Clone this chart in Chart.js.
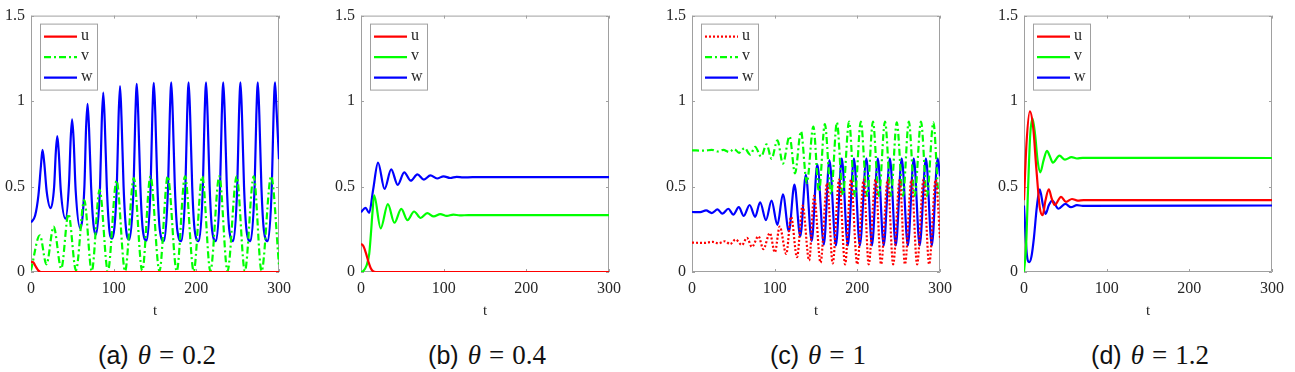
<!DOCTYPE html>
<html>
<head>
<meta charset="utf-8">
<script src="https://cdn.jsdelivr.net/npm/chart.js@4.4.1/dist/chart.umd.min.js"></script>
<style>
  html, body { margin: 0; padding: 0; background: #fff; }
  body { width: 1295px; height: 372px; position: relative; overflow: hidden; }
  canvas { position: absolute; top: 0; }
  .cap { position: absolute; top: 342px; width: 252px; text-align: center; color: #111; white-space: nowrap; line-height: 1; }
  .cap .lab { font-family: "Liberation Sans", Arial, sans-serif; font-size: 25px; }
  .cap .math { font-family: "Liberation Serif", "Times New Roman", serif; font-size: 27px; margin-left: 5px; }
  .cap .eq { margin: 0 8px; }
</style>
</head>
<body>
<canvas id="ca" width="298" height="320" style="left:0px"></canvas>
<canvas id="cb" width="298" height="320" style="left:330px"></canvas>
<canvas id="cc" width="298" height="320" style="left:661px"></canvas>
<canvas id="cd" width="298" height="320" style="left:993px"></canvas>
<div class="cap" style="left:31px"><span class="lab">(a)</span> <span class="math"><i>θ</i><span class="eq">=</span>0.2</span></div>
<div class="cap" style="left:361px"><span class="lab">(b)</span> <span class="math"><i>θ</i><span class="eq">=</span>0.4</span></div>
<div class="cap" style="left:692px"><span class="lab">(c)</span> <span class="math"><i>θ</i><span class="eq">=</span>1</span></div>
<div class="cap" style="left:1024px"><span class="lab">(d)</span> <span class="math"><i>θ</i><span class="eq">=</span>1.2</span></div>
<script>
// axis ticks
var xTicks = [0, 100, 200, 300];
var yTicks = [0, 0.5, 1, 1.5];
var seriesNames = ["u", "v", "w"];

// (a) theta = 0.2
var tA_u = [0, 3, 6, 9, 12, 300];
var uA   = [0.06, 0.055, 0.03, 0.008, 0, 0];
var tA_v = [0, 10.7, 18.7, 27.4, 36.6, 45.3, 54.4, 64.4, 73.5, 83, 93, 103.5, 113.8, 124.3, 134.6, 144.5, 155.4, 165.4, 176.3, 186.3, 196.8, 207.1, 217, 227.8, 237.7, 248.8, 258.7, 269.4, 278.9, 290.5, 300];
var vA   = [0.01, 0.215, 0.045, 0.265, 0.02, 0.34, 0.01, 0.42, 0.005, 0.48, 0.005, 0.535, 0.005, 0.55, 0.005, 0.56, 0.005, 0.56, 0.005, 0.56, 0.005, 0.56, 0.005, 0.56, 0.005, 0.56, 0.005, 0.56, 0.005, 0.56, 0.04];
var tA_w = [0, 5, 9, 12, 13.9, 16, 19, 23.8,
  28, 30, 31.8, 33.6, 36, 41.7,
  46, 48, 49.7, 51.5, 54, 59.6,
  64.6, 66.6, 68.4, 70.2, 72.7, 75.5, 78.5,
  83.5, 85.6, 87.4, 89.2, 91.7, 94.5, 98,
  103.8, 105.9, 107.7, 109.5, 112, 115, 119,
  124.1, 126.2, 128, 129.8, 132.3, 135.4, 139.9,
  144.7, 146.8, 148.6, 150.4, 152.9, 156, 160.9,
  165.8, 167.9, 169.7, 171.5, 174, 177.1, 182,
  186.8, 188.9, 190.7, 192.5, 195, 198.1, 203,
  207.9, 210, 211.8, 213.6, 216.1, 219.2, 223.8,
  228.7, 230.8, 232.6, 234.4, 236.9, 240, 244.6,
  249.5, 251.6, 253.4, 255.2, 257.7, 260.8, 265.5,
  270.5, 272.6, 274.4, 276.2, 278.7, 281.8, 286.5,
  291.3, 293.4, 295.2, 297, 300];
var wA = [0.29, 0.33, 0.45, 0.62, 0.715, 0.64, 0.47, 0.373,
  0.5, 0.7, 0.795, 0.7, 0.48, 0.312,
  0.52, 0.78, 0.893, 0.78, 0.48, 0.255,
  0.5, 0.84, 0.984, 0.84, 0.5, 0.28, 0.218,
  0.5, 0.88, 1.05, 0.88, 0.5, 0.26, 0.195,
  0.5, 0.9, 1.088, 0.9, 0.5, 0.25, 0.189,
  0.5, 0.91, 1.1, 0.91, 0.5, 0.24, 0.183,
  0.5, 0.92, 1.107, 0.92, 0.5, 0.24, 0.18,
  0.5, 0.92, 1.11, 0.92, 0.5, 0.24, 0.18,
  0.5, 0.92, 1.11, 0.92, 0.5, 0.24, 0.18,
  0.5, 0.92, 1.11, 0.92, 0.5, 0.24, 0.18,
  0.5, 0.92, 1.11, 0.92, 0.5, 0.24, 0.18,
  0.5, 0.92, 1.11, 0.92, 0.5, 0.24, 0.18,
  0.5, 0.92, 1.11, 0.92, 0.5, 0.24, 0.18,
  0.5, 0.92, 1.11, 0.95, 0.66];

// (b) theta = 0.4
var tB_u = [0, 3, 6, 9, 12, 15, 18, 300];
var uB   = [0.165, 0.15, 0.11, 0.06, 0.02, 0.003, 0, 0];
var tB_v = [0, 2.8, 6.7, 9.9, 11.9, 13.9, 15.9, 23.8, 32.5, 40.4, 48.7, 56.3, 64.2, 72.1, 80.1, 88, 95.9, 103.8, 111.7, 119.6, 130, 300];
var vB   = [0, 0.006, 0.038, 0.104, 0.217, 0.35, 0.448, 0.255, 0.397, 0.288, 0.369, 0.303, 0.354, 0.316, 0.344, 0.325, 0.339, 0.328, 0.336, 0.331, 0.333, 0.333];
var tB_w = [0, 5.5, 9.9, 14.7, 20.6, 28.5, 36.5, 44.4, 52.3, 60.2, 68.2, 76.1, 84, 92, 99.9, 107.8, 115.7, 123.6, 135, 300];
var wB   = [0.35, 0.375, 0.346, 0.482, 0.64, 0.486, 0.6, 0.51, 0.583, 0.534, 0.571, 0.54, 0.565, 0.547, 0.56, 0.55, 0.557, 0.553, 0.555, 0.555];

// (c) theta = 1
var tC_u = [0, 15, 25, 32, 40, 46, 52.7, 60.5, 66.5, 72.4, 80.4, 86.3, 94.2, 100.2, 106.1, 114, 119.9, 127, 133.8, 141.7, 147.7, 155.5, 163.4, 170.2, 178, 185.2, 192.3, 199.9, 207.7, 213.7, 222, 228.7, 236.7, 243.3, 251.3, 257.6, 265.5, 272.3, 280.1, 286.9, 294.8, 300];
var uC   = [0.172, 0.17, 0.176, 0.168, 0.18, 0.163, 0.19, 0.158, 0.2, 0.147, 0.209, 0.134, 0.228, 0.115, 0.266, 0.106, 0.323, 0.087, 0.389, 0.068, 0.445, 0.055, 0.52, 0.05, 0.54, 0.045, 0.54, 0.045, 0.54, 0.045, 0.54, 0.045, 0.54, 0.045, 0.54, 0.045, 0.54, 0.045, 0.54, 0.045, 0.54, 0.2];
var tC_v = [0, 15, 24, 31, 38, 45, 51, 57, 63.5, 70.5, 76.4, 83.6, 90.2, 96.2, 103.3, 110, 118, 124.6, 131.8, 138.9, 146.8, 153.6, 160.7, 168.2, 175.3, 182.4, 190, 197, 204.2, 211.8, 218.9, 226, 233.5, 240.6, 247.7, 255.2, 262.3, 269.4, 277, 284.2, 292, 298.8, 300];
var vC   = [0.712, 0.71, 0.715, 0.705, 0.714, 0.702, 0.72, 0.697, 0.725, 0.687, 0.732, 0.675, 0.747, 0.662, 0.77, 0.634, 0.794, 0.577, 0.823, 0.521, 0.851, 0.47, 0.865, 0.455, 0.875, 0.45, 0.88, 0.445, 0.88, 0.445, 0.88, 0.445, 0.88, 0.445, 0.875, 0.445, 0.88, 0.445, 0.88, 0.445, 0.875, 0.445, 0.45];
var tC_w = [0, 10, 17, 24, 30.9, 36.8, 43.9, 49.9, 56.6, 62.6, 69.7, 76.4, 82.4, 89.5, 96.2, 103.3, 110, 117.2, 123.9, 131, 137.7, 144.8, 151.6, 159.5, 166.2, 174.1, 181.2, 188.4, 195.9, 203, 211, 217.7, 224.8, 231.9, 239.4, 246.5, 253.7, 261.1, 268.3, 275.4, 283, 290.1, 297.2, 300];
var wC   = [0.351, 0.35, 0.36, 0.345, 0.366, 0.341, 0.37, 0.336, 0.379, 0.328, 0.392, 0.323, 0.408, 0.304, 0.417, 0.276, 0.455, 0.238, 0.511, 0.209, 0.568, 0.181, 0.63, 0.16, 0.655, 0.155, 0.665, 0.155, 0.665, 0.155, 0.665, 0.155, 0.665, 0.155, 0.665, 0.155, 0.665, 0.155, 0.665, 0.155, 0.665, 0.155, 0.665, 0.56];

// (d) theta = 1.2
var tD_u = [0, 3, 7.1, 11, 15, 19, 22.5, 26, 30, 33.5, 37, 44.8, 50.8, 58, 65, 72, 300];
var uD   = [0.42, 0.75, 0.94, 0.85, 0.6, 0.38, 0.332, 0.42, 0.483, 0.43, 0.392, 0.44, 0.41, 0.427, 0.417, 0.421, 0.42];
var tD_v = [0, 2.5, 5, 7.5, 10.3, 13.5, 16.5, 19.8, 23.5, 27.8, 31, 34.9, 42.9, 49.6, 57.5, 64, 71, 300];
var vD   = [0.002, 0.15, 0.5, 0.8, 0.898, 0.8, 0.65, 0.583, 0.65, 0.709, 0.68, 0.64, 0.681, 0.657, 0.672, 0.664, 0.668, 0.667];
var tD_w = [0, 1.5, 3.5, 6.3, 9, 12, 15.5, 19, 23, 26.2, 30, 34.1, 41.7, 50, 56.8, 64, 71, 300];
var wD   = [0.389, 0.25, 0.1, 0.058, 0.09, 0.2, 0.38, 0.483, 0.39, 0.34, 0.39, 0.417, 0.37, 0.398, 0.379, 0.391, 0.387, 0.389];

var RED = "#ff0000", GREEN = "#00ff00", BLUE = "#0000ff";
var AXIS = "#a0a0a0", TEXT = "#262626";
var SERIF = "'Liberation Serif', 'Times New Roman', serif";
var SOLID = [], DASHDOT = [7, 3, 2, 3], DOTTED = [2, 2];

function pts(ts, vs) {
    return ts.map(function(t, i) { return { x: t, y: vs[i] }; });
}

// box + inward ticks on all four sides, MATLAB style
var boxPlugin = {
    id: "box",
    beforeDatasetsDraw: function(chart) {
        var ctx = chart.ctx, a = chart.chartArea;
        var xs = chart.scales.x, ys = chart.scales.y;
        ctx.save();
        ctx.strokeStyle = AXIS;
        ctx.lineWidth = 1;
        ctx.beginPath();
        ctx.rect(a.left + 0.5, a.top + 0.5, a.right - a.left - 1, a.bottom - a.top - 1);
        xTicks.forEach(function(v) {
            var px = Math.round(xs.getPixelForValue(v)) + 0.5;
            ctx.moveTo(px, a.bottom); ctx.lineTo(px, a.bottom - 3);
            ctx.moveTo(px, a.top); ctx.lineTo(px, a.top + 3);
        });
        yTicks.forEach(function(v) {
            var py = Math.round(ys.getPixelForValue(v)) + 0.5;
            ctx.moveTo(a.left, py); ctx.lineTo(a.left + 3, py);
            ctx.moveTo(a.right, py); ctx.lineTo(a.right - 3, py);
        });
        ctx.stroke();
        ctx.restore();
    },
    afterDatasetsDraw: function(chart) {
        var ctx = chart.ctx, a = chart.chartArea;
        var x0 = a.left + 9, y0 = a.top + 8, w = 58, h = 67;
        ctx.save();
        ctx.fillStyle = "#fff";
        ctx.fillRect(x0, y0, w, h);
        ctx.strokeStyle = AXIS;
        ctx.lineWidth = 1;
        ctx.strokeRect(x0 + 0.5, y0 + 0.5, w - 1, h - 1);
        chart.data.datasets.forEach(function(ds, i) {
            var y = y0 + 13 + i * 20.5;
            ctx.strokeStyle = ds.borderColor;
            ctx.lineWidth = 2.2;
            ctx.setLineDash(ds.borderDash || []);
            ctx.beginPath();
            ctx.moveTo(x0 + 4, y); ctx.lineTo(x0 + 37, y);
            ctx.stroke();
            ctx.setLineDash([]);
            ctx.fillStyle = TEXT;
            ctx.font = "16px " + SERIF;
            ctx.textBaseline = "middle";
            ctx.fillText(ds.label, x0 + 41, y - 1);
        });
        ctx.restore();
    }
};

function makeChart(id, series) {
    var datasets = series.map(function(s, i) {
        return {
            label: seriesNames[i],
            data: pts(s[0], s[1]),
            borderColor: s[2],
            borderDash: s[3],
            borderWidth: 2.2,
            pointRadius: 0,
            cubicInterpolationMode: "monotone",
            fill: false
        };
    });
    return new Chart(document.getElementById(id), {
        type: "line",
        data: { datasets: datasets },
        plugins: [boxPlugin],
        options: {
            responsive: false,
            animation: false,
            devicePixelRatio: 1,
            layout: { padding: { top: 7, right: 15, left: 0, bottom: 0 } },
            plugins: { legend: { display: false }, tooltip: { enabled: false } },
            scales: {
                x: {
                    type: "linear", min: 0, max: 300,
                    afterBuildTicks: function(s) { s.ticks = xTicks.map(function(v) { return { value: v }; }); },
                    afterFit: function(s) { s.height = 48; },
                    grid: { display: false, drawTicks: false },
                    border: { display: false },
                    ticks: { color: TEXT, font: { family: SERIF, size: 16 }, padding: 7, maxRotation: 0,
                             callback: function(v) { return String(v); } },
                    title: { display: true, text: "t", color: TEXT, font: { family: SERIF, size: 15 }, padding: 0 }
                },
                y: {
                    type: "linear", min: 0, max: 1.5,
                    afterBuildTicks: function(s) { s.ticks = yTicks.map(function(v) { return { value: v }; }); },
                    afterFit: function(s) { s.width = 31; },
                    grid: { display: false, drawTicks: false },
                    border: { display: false },
                    ticks: { color: TEXT, font: { family: SERIF, size: 16 }, padding: 6,
                             callback: function(v) { return String(v); } }
                }
            }
        }
    });
}

makeChart("ca", [[tA_u, uA, RED, SOLID], [tA_v, vA, GREEN, DASHDOT], [tA_w, wA, BLUE, SOLID]]);
makeChart("cb", [[tB_u, uB, RED, SOLID], [tB_v, vB, GREEN, SOLID], [tB_w, wB, BLUE, SOLID]]);
makeChart("cc", [[tC_u, uC, RED, DOTTED], [tC_v, vC, GREEN, DASHDOT], [tC_w, wC, BLUE, SOLID]]);
makeChart("cd", [[tD_u, uD, RED, SOLID], [tD_v, vD, GREEN, SOLID], [tD_w, wD, BLUE, SOLID]]);
</script>
</body>
</html>
